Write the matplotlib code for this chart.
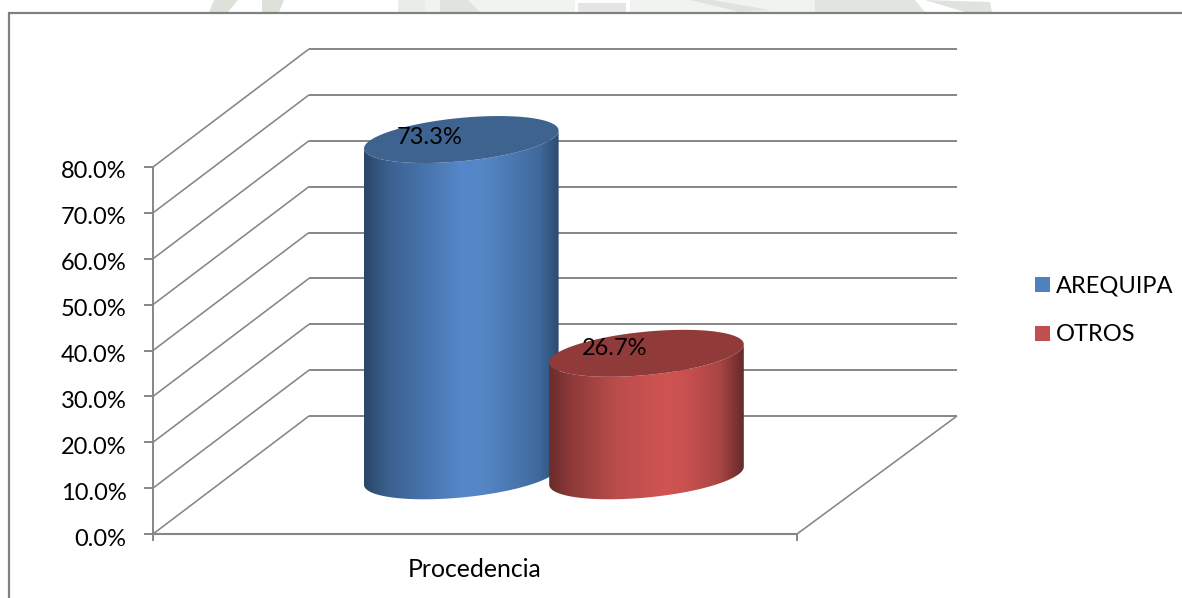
import numpy as np
import matplotlib
matplotlib.use("Agg")
import matplotlib.pyplot as plt
from matplotlib.patches import Polygon, Rectangle
from matplotlib.colors import LinearSegmentedColormap

# ---- data ----
categories = ["AREQUIPA", "OTROS"]
values = [73.3, 26.7]
value_labels = ["73.3%", "26.7%"]
group_label = "Procedencia"
y_ticks = [0, 10, 20, 30, 40, 50, 60, 70, 80]
y_tick_labels = ["0.0%", "10.0%", "20.0%", "30.0%", "40.0%", "50.0%", "60.0%", "70.0%", "80.0%"]

W, H = 1182, 598
plt.rcParams["font.family"] = ["Lato", "DejaVu Sans"]
FS = 17
GRID = "#868686"

fig = plt.figure(figsize=(W / 100, H / 100), dpi=100, facecolor="white")

# faint background watermark remnants above the chart frame (pixel coordinates)
wm_shapes = [
    ([(398, 0), (575, 0), (575, 12), (398, 12)], "#f1f3f1"),
    ([(398, 0), (425, 0), (425, 12), (398, 12)], "#e9ece9"),
    ([(630, 0), (815, 0), (815, 12), (630, 12)], "#f1f3f1"),
    ([(214, 0), (238, 0), (228, 12), (209, 12)], "#dce1da"),
    ([(262, 0), (284, 0), (279, 12), (262, 12)], "#dce1da"),
    ([(440, 0), (468, 0), (480, 12), (440, 12)], "#e0e4df"),
    ([(578, 3), (626, 3), (626, 12), (578, 12)], "#e3e6e2"),
    ([(690, 0), (712, 0), (770, 10), (740, 12)], "#dfe3de"),
    ([(815, 0), (915, 0), (925, 12), (815, 12)], "#e1e5e0"),
    ([(925, 0), (990, 2), (992, 12), (965, 12)], "#dfe3de"),
]
for pts, col in wm_shapes:
    fig.add_artist(Polygon([(x / W, 1 - y / H) for x, y in pts], closed=True,
                           transform=fig.transFigure, fc=col, ec="none", zorder=-1))

# front plane of the 3-D box, in pixels
L, R, B, T = 153.0, 797.0, 534.0, 167.0
ax = fig.add_axes([L / W, 1 - B / H, (R - L) / W, (B - T) / H])
ax.set_xlim(0, 1)
ax.set_ylim(0, 80)
ax.axis("off")
ax.patch.set_alpha(0)

px = (R - L)            # pixels per x-unit
py = (B - T) / 80.0     # pixels per percent
DX = 156.0 / px         # depth offset
DY = 118.0 / py
EXTRA = 4.0 / px


def line(xs, ys, lw=1.4, c=GRID, z=1):
    ax.plot(xs, ys, color=c, lw=lw, clip_on=False, zorder=z, solid_capstyle="butt")


# chart frame (figure coordinates)
fig.add_artist(Rectangle((9.0 / W, -0.01), (W + 20) / W, 1 + 0.01 - 13.0 / H, transform=fig.transFigure,
                         fill=False, ec="#808080", lw=1.6, zorder=0))

# walls and grid
for v, lab in zip(y_ticks, y_tick_labels):
    line([0, DX], [v, v + DY], lw=1.15)
    line([DX, 1 + DX + EXTRA], [v + DY, v + DY])
    line([-9.5 / px, 0], [v, v])
    ax.text(-26.5 / px, v - 5.0 / py, lab, ha="right", va="center", fontsize=FS, color="black", clip_on=False, zorder=6)
line([0, 0], [0, 80])
line([0, 1], [0, 0], lw=1.5)
line([0, 0], [0, -7 / py])
line([1, 1], [0, -7 / py])
line([1, 1 + DX + EXTRA], [0, DY], lw=1.15)
ax.text(0.5, -35.5 / py, group_label, ha="center", va="center", fontsize=FS + 0.8, color="black", clip_on=False)

# cylinders
cmaps = [
    LinearSegmentedColormap.from_list("b", [(0, "#2a4668"), (0.12, "#3a608f"), (0.5, "#5587c9"), (0.62, "#5486c6"), (0.9, "#3f6a9c"), (1, "#2c4a70")]),
    LinearSegmentedColormap.from_list("r", [(0, "#6a2c2c"), (0.12, "#8f3a39"), (0.35, "#bb4d4b"), (0.6, "#cf5452"), (0.7, "#c9514f"), (0.88, "#a84543"), (1, "#652a2a")]),
]
top_colors = ["#3e638f", "#903a39"]
label_lift_px = [2.0, 5.0]
centers = [(461.3 - L) / px, (646.5 - L) / px]
half_w = 97.3 / px
tilt = 9.0 / py
half_h = 21.7 / py
base = (B - 475.8) / py          # value-axis position of the cylinder base centre (floor depth)
t = np.linspace(0, 2 * np.pi, 241)
gradient = np.linspace(0, 1, 256).reshape(1, -1)

for i, (cx, val) in enumerate(zip(centers, values)):
    z = 3 + i
    ex = half_w * np.cos(t)
    ey = tilt * np.cos(t) + half_h * np.sin(t)
    tt = np.linspace(np.pi, 2 * np.pi, 121)
    lx = cx + half_w * np.cos(tt)
    ly = tilt * np.cos(tt) + half_h * np.sin(tt)
    body_x = np.r_[lx, lx[::-1]]
    body_y = np.r_[base + ly, base + val + ly[::-1]]
    body = Polygon(np.c_[body_x, body_y], closed=True, transform=ax.transData, fc="none", ec="none", clip_on=False)
    ax.add_patch(body)
    im = ax.imshow(gradient, extent=[cx - half_w, cx + half_w, base - 10, base + val + 10], aspect="auto",
                   cmap=cmaps[i], zorder=z, interpolation="bilinear")
    im.set_clip_box(fig.bbox)
    im.set_clip_path(body)
    ax.add_patch(Polygon(np.c_[cx + ex, base + val + ey], closed=True, fc=top_colors[i], ec="none",
                         zorder=z + 0.1, clip_on=False))
    ax.text(cx - 0.049, base + val + label_lift_px[i] / py, value_labels[i], ha="center", va="center",
            fontsize=FS, color="black", zorder=7, clip_on=False)
ax.set_xlim(0, 1)
ax.set_ylim(0, 80)

# legend
legend_x = [1035.0, 1035.0]
legend_y = [284.5, 333.5]
for name, col, lx_, ly_ in zip(categories, ["#4f81bd", "#c0504d"], legend_x, legend_y):
    fig.add_artist(Rectangle((lx_ / W, 1 - (ly_ + 7.5) / H), 15 / W, 15 / H, transform=fig.transFigure, fc=col, ec="none"))
    fig.text((lx_ + 21) / W, 1 - (ly_ + 1.2) / H, name, ha="left", va="center", fontsize=FS, color="black")

fig.savefig("out.png", dpi=100, facecolor="white")
